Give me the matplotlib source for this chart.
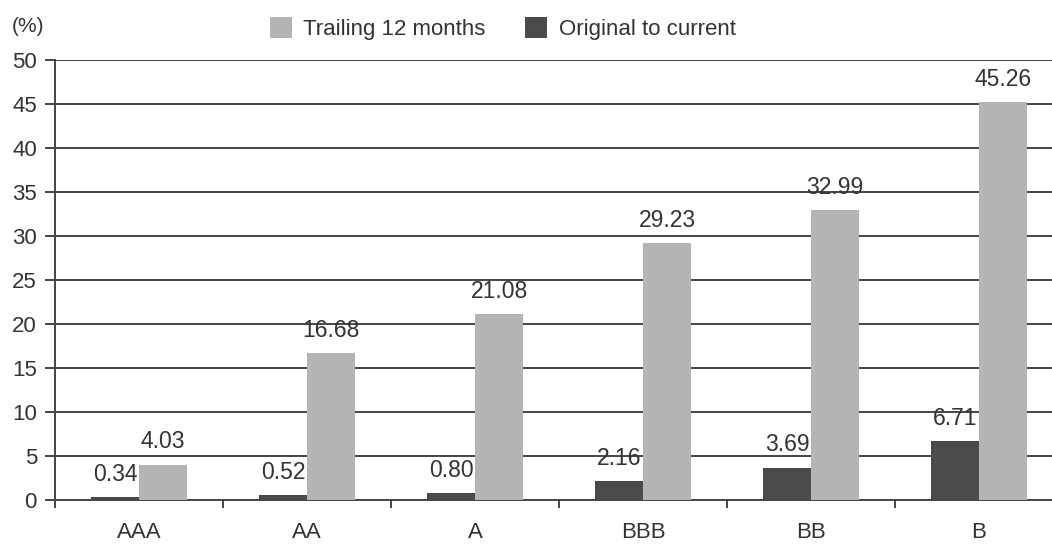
import numpy as np
import matplotlib.pyplot as plt

plt.rcParams['font.family'] = ['Liberation Sans', 'DejaVu Sans']

ratings = ["AAA", "AA", "A", "BBB", "BB", "B"]
trailing_12m = [4.03, 16.68, 21.08, 29.23, 32.99, 45.26]
orig_to_current = [0.34, 0.52, 0.80, 2.16, 3.69, 6.71]

light = "#b4b4b4"
dark = "#4a4a4a"
txt = "#333333"

fig = plt.figure(figsize=(10.52, 5.44), dpi=100)
# axes run slightly past the right edge of the figure
ax = fig.add_axes([55 / 1052, 44 / 544, 1008 / 1052, 440 / 544])

x = np.arange(len(ratings))
w = 0.286
b_dark = ax.bar(x - w / 2, orig_to_current, w, color=dark, label="Original to current", zorder=3)
b_light = ax.bar(x + w / 2, trailing_12m, w, color=light, label="Trailing 12 months", zorder=3)

for bars, vals in ((b_dark, orig_to_current), (b_light, trailing_12m)):
    for r, v in zip(bars, vals):
        ax.annotate(f"{v:.2f}", (r.get_x() + r.get_width() / 2, v),
                    xytext=(0, 8), textcoords="offset points",
                    ha="center", va="bottom", fontsize=16.5, color=txt)

ax.set_ylim(0, 50)
ax.set_xlim(-0.5, 5.5)
ax.set_yticks(range(0, 51, 5))
ax.yaxis.grid(True, color="#444444", linewidth=1.4, zorder=1)
ax.set_axisbelow(True)

# category labels at centres, tick marks at the group boundaries
ax.set_xticks(x)
ax.set_xticklabels(ratings)
ax.set_xticks(np.arange(-0.5, 6, 1), minor=True)
ax.tick_params(axis="x", which="major", length=0, pad=16, labelsize=16, labelcolor=txt)
ax.tick_params(axis="x", which="minor", length=6, width=1.4, direction="out", color="#444444")
ax.tick_params(axis="y", length=7, width=1.4, color="#444444", labelsize=16, labelcolor=txt, pad=6)

for s in ("top", "right"):
    ax.spines[s].set_visible(False)
for s in ("left", "bottom"):
    ax.spines[s].set_color("#444444")
    ax.spines[s].set_linewidth(1.4)

fig.text(12 / 1052, 1 - 27 / 544, "(%)", fontsize=15, color=txt, ha="left", va="center")

ax.legend(handles=[b_light, b_dark], loc="lower left", bbox_to_anchor=(0.193, 1.0),
          ncol=2, frameon=False, fontsize=16, handlelength=1.0, handleheight=1.1,
          columnspacing=1.8, handletextpad=0.5, labelcolor=txt)

fig.savefig("out.png", dpi=100)
